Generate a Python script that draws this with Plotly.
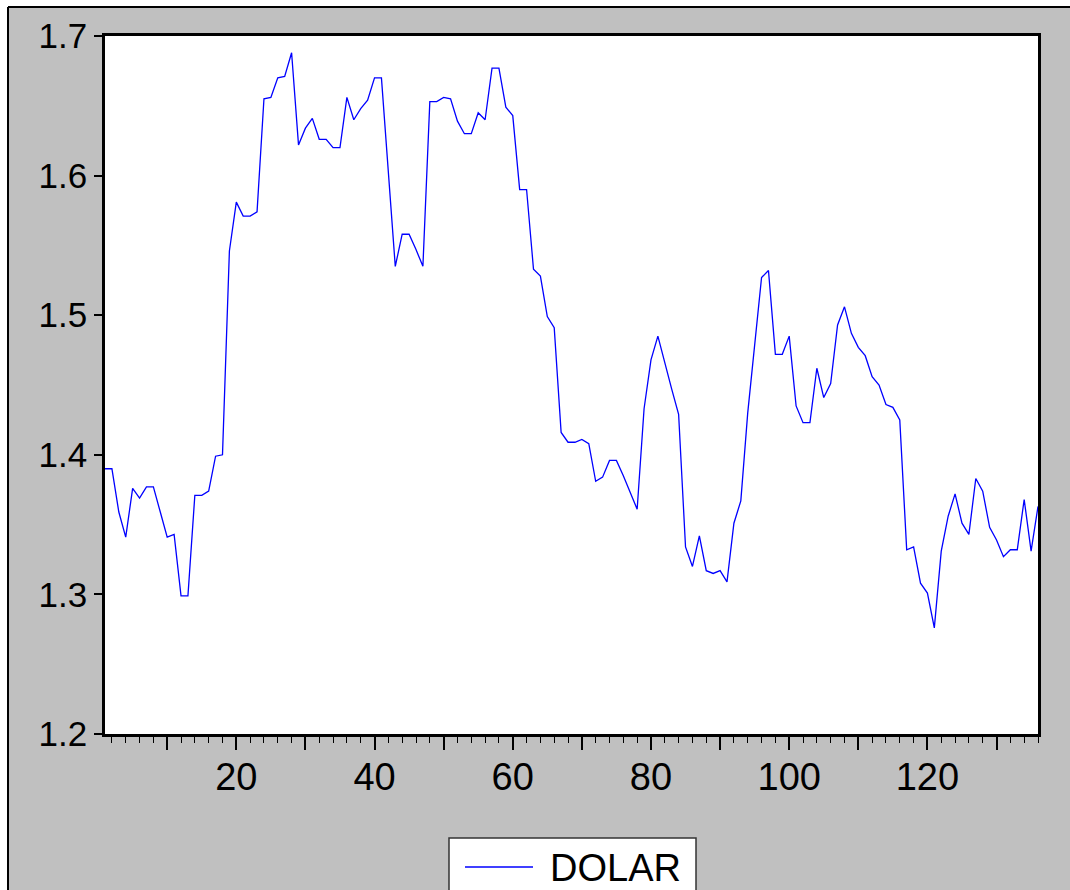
import plotly.graph_objects as go

# DOLAR series, observations 1..136
obs = list(range(1, 137))
dolar = [
    1.390, 1.390, 1.359, 1.341, 1.376, 1.369, 1.377, 1.377, 1.359, 1.341,
    1.343, 1.299, 1.299, 1.371, 1.371, 1.374, 1.399, 1.400, 1.546, 1.581,
    1.571, 1.571, 1.574, 1.655, 1.656, 1.670, 1.671, 1.688, 1.622, 1.634,
    1.641, 1.626, 1.626, 1.620, 1.620, 1.656, 1.640, 1.648, 1.654, 1.670,
    1.670, 1.603, 1.535, 1.558, 1.558, 1.547, 1.535, 1.653, 1.653, 1.656,
    1.655, 1.639, 1.630, 1.630, 1.645, 1.640, 1.677, 1.677, 1.649, 1.643,
    1.590, 1.590, 1.533, 1.528, 1.499, 1.491, 1.416, 1.409, 1.409, 1.411,
    1.408, 1.381, 1.384, 1.396, 1.396, 1.385, 1.373, 1.361, 1.433, 1.468,
    1.485, 1.465, 1.447, 1.429, 1.334, 1.320, 1.342, 1.317, 1.315, 1.317,
    1.309, 1.351, 1.367, 1.430, 1.477, 1.527, 1.532, 1.472, 1.472, 1.485,
    1.435, 1.423, 1.423, 1.462, 1.441, 1.451, 1.493, 1.506, 1.487, 1.477,
    1.471, 1.456, 1.450, 1.436, 1.434, 1.425, 1.332, 1.334, 1.308, 1.301,
    1.276, 1.331, 1.356, 1.372, 1.351, 1.343, 1.383, 1.374, 1.348, 1.339,
    1.327, 1.332, 1.332, 1.368, 1.331, 1.363,
]

# axis ticks
y_ticks = [1.2, 1.3, 1.4, 1.5, 1.6, 1.7]
y_labels = ["1.2", "1.3", "1.4", "1.5", "1.6", "1.7"]
x_ticks = [10, 20, 30, 40, 50, 60, 70, 80, 90, 100, 110, 120, 130]
x_labels = ["", "20", "", "40", "", "60", "", "80", "", "100", "", "120", ""]

series_name = "DOLAR"
LINE_COLOR = "#0000FF"
GRAY = "#C0C0C0"

W, H = 1070, 890
ML, MR, MT, MB = 105, 32, 36, 156
PW, PH = W - ML - MR, H - MT - MB


def px_x(px):
    return (px - ML) / PW


def px_y(py):
    return (H - MB - py) / PH


fig = go.Figure()
fig.add_trace(go.Scatter(
    x=obs, y=dolar, mode="lines", name=series_name,
    line=dict(color=LINE_COLOR, width=1.3),
    showlegend=False,
))

font = "Arial, Liberation Sans, sans-serif"

shapes = [
    # white strip along the top and left outside the graph frame
    dict(type="rect", xref="paper", yref="paper", x0=px_x(-50), x1=px_x(1200),
         y0=px_y(7), y1=px_y(-50), fillcolor="white", line=dict(width=0), layer="below"),
    dict(type="rect", xref="paper", yref="paper", x0=px_x(-50), x1=px_x(8),
         y0=px_y(1000), y1=px_y(-50), fillcolor="white", line=dict(width=0), layer="below"),
    # frame edges
    dict(type="line", xref="paper", yref="paper", x0=px_x(8), x1=px_x(1200),
         y0=px_y(7), y1=px_y(7), line=dict(color="black", width=2), layer="below"),
    dict(type="line", xref="paper", yref="paper", x0=px_x(8), x1=px_x(8),
         y0=px_y(7), y1=px_y(1000), line=dict(color="black", width=2), layer="below"),
    # legend box
    dict(type="rect", xref="paper", yref="paper", x0=px_x(449), x1=px_x(696),
         y0=px_y(838), y1=px_y(920), fillcolor="white",
         line=dict(color="#333333", width=1.5)),
    dict(type="line", xref="paper", yref="paper", x0=px_x(465), x1=px_x(533),
         y0=px_y(867), y1=px_y(867), line=dict(color=LINE_COLOR, width=1.3)),
]

annotations = [
    dict(text=series_name, xref="paper", yref="paper", x=px_x(548), y=px_y(868),
         xanchor="left", yanchor="middle", showarrow=False,
         font=dict(family=font, size=38, color="black")),
]

fig.update_layout(
    width=W, height=H,
    margin=dict(l=ML, r=MR, t=MT, b=MB, autoexpand=False),
    paper_bgcolor=GRAY, plot_bgcolor="white",
    shapes=shapes, annotations=annotations,
    showlegend=False,
)

fig.update_xaxes(
    range=[1, 136], showgrid=False, zeroline=False,
    showline=True, mirror=True, linecolor="black", linewidth=2.5,
    tickmode="array", tickvals=x_ticks, ticktext=x_labels,
    ticks="outside", ticklen=13, tickwidth=1.5, tickcolor="black",
    ticklabelstandoff=-5,
    tickfont=dict(family=font, size=38, color="black"),
    minor=dict(dtick=2, tick0=0, ticks="outside", ticklen=6, tickwidth=1.2,
               tickcolor="black", showgrid=False),
)
fig.update_yaxes(
    range=[1.2, 1.7], showgrid=False, zeroline=False,
    showline=True, mirror=True, linecolor="black", linewidth=2.5,
    tickmode="array", tickvals=y_ticks, ticktext=y_labels,
    ticks="outside", ticklen=8, tickwidth=1.5, tickcolor="black",
    tickfont=dict(family=font, size=35, color="black"),
)

fig.write_html("out.html")
